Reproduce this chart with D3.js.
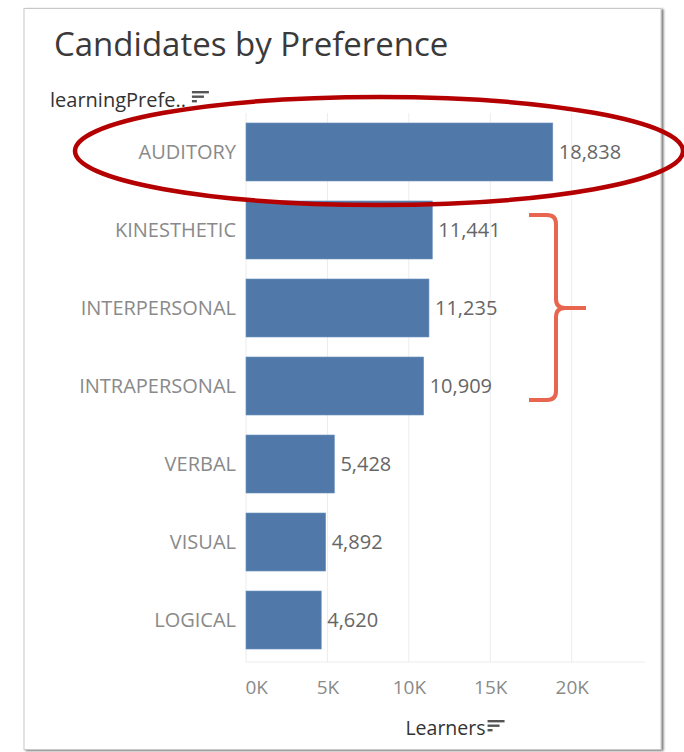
<!DOCTYPE html>
<html><head><meta charset="utf-8">
<script src="https://cdn.jsdelivr.net/npm/d3@7"></script>
<style>
html,body{margin:0;padding:0;background:#fff;}
svg{display:block;}
text{font-family:"Open Sans","Noto Sans",sans-serif;}
</style></head>
<body><svg id="chart" width="684" height="752"></svg>
<script>
const categories = ["AUDITORY","KINESTHETIC","INTERPERSONAL","INTRAPERSONAL","VERBAL","VISUAL","LOGICAL"];
const learners = [18838, 11441, 11235, 10909, 5428, 4892, 4620];
const tickValues = [0, 5000, 10000, 15000, 20000];
const tickLabels = ["0K","5K","10K","15K","20K"];
const title = "Candidates by Preference";
const rowHeader = "learningPrefe..";
const axisTitle = "Learners";

const svg = d3.select("#chart");
const defs = svg.append("defs");
const f = defs.append("filter").attr("id","sh").attr("x","-5%").attr("y","-5%").attr("width","110%").attr("height","110%");
f.append("feGaussianBlur").attr("in","SourceAlpha").attr("stdDeviation",1.2);
f.append("feOffset").attr("dx",1.5).attr("dy",0.5).attr("result","b");
f.append("feComponentTransfer").append("feFuncA").attr("type","linear").attr("slope",0.55);
const m = f.append("feMerge"); m.append("feMergeNode"); m.append("feMergeNode").attr("in","SourceGraphic");

// card
svg.append("rect").attr("x",24).attr("y",8.5).attr("width",637).attr("height",741)
  .attr("fill","#fff").attr("stroke","#c8c8c8").attr("stroke-width",1).attr("filter","url(#sh)");

const x = d3.scaleLinear().domain([0, 24500]).range([246, 645]);
const y = d3.scaleBand().domain(categories).range([113, 659]).paddingInner(0.2564).paddingOuter(0.128);

// gridlines
svg.append("g").selectAll("line").data(tickValues).join("line")
  .attr("x1", d => x(d)).attr("x2", d => x(d)).attr("y1", 113).attr("y2", 662)
  .attr("stroke", "#ececec").attr("stroke-width", 1);
svg.append("line").attr("x1", 246).attr("x2", 645).attr("y1", 662).attr("y2", 662)
  .attr("stroke", "#ececec");

// title
svg.append("text").attr("x", 54).attr("y", 56).attr("font-size", 33).attr("fill", "#3a3a3a")
  .attr("font-weight", 400).text(title);

function sortIcon(g, x0, y0){
  g.append("rect").attr("x",x0).attr("y",y0).attr("width",17).attr("height",2.4).attr("fill","#555");
  g.append("rect").attr("x",x0).attr("y",y0+4.5).attr("width",12).attr("height",2.4).attr("fill","#555");
  g.append("rect").attr("x",x0).attr("y",y0+9).attr("width",5).attr("height",2.4).attr("fill","#555");
}
const hdr = svg.append("text").attr("x", 50).attr("y", 107).attr("font-size", 20).attr("fill", "#333")
  .attr("font-weight", 500).text(rowHeader);
sortIcon(svg.append("g"), 50 + hdr.node().getComputedTextLength() + 6, 91);

// bars
svg.append("g").selectAll("rect").data(categories).join("rect")
  .attr("x", x(0)).attr("y", d => y(d)).attr("height", y.bandwidth())
  .attr("width", (d,i) => x(learners[i]) - x(0))
  .attr("fill", "#5079a9").attr("stroke","#6f93bf").attr("stroke-width",0.6);

// category labels
svg.append("g").selectAll("text").data(categories).join("text")
  .attr("x", 236).attr("y", d => y(d) + y.bandwidth()/2).attr("dy", "0.35em")
  .attr("text-anchor", "end").attr("font-size", 20).attr("fill", "#8a8a8a").text(d => d);

// value labels
const fmt = d3.format(",");
svg.append("g").selectAll("text").data(categories).join("text")
  .attr("x", (d,i) => x(learners[i]) + 6).attr("y", d => y(d) + y.bandwidth()/2).attr("dy", "0.35em")
  .attr("font-size", 20).attr("fill", "#666").text((d,i) => fmt(learners[i]));

// x axis
const axis = d3.axisBottom(x).tickValues(tickValues).tickFormat((d,i) => tickLabels[i]).tickSize(0).tickPadding(0);
const ag = svg.append("g").attr("transform", "translate(0,680)").call(axis);
ag.select(".domain").remove();
ag.selectAll("text").attr("font-size", 19).attr("fill", "#8a8a8a").attr("font-family", "\"Open Sans\",sans-serif")
  .attr("text-anchor", (d,i) => i === 0 ? "start" : "middle").attr("dx", (d,i) => i === 0 ? -1 : 0);

const at = svg.append("text").attr("x", (x.range()[0] + x.range()[1]) / 2).attr("y", 735)
  .attr("text-anchor", "middle").attr("font-size", 19.5).attr("fill", "#333").attr("font-weight", 500).text(axisTitle);
const bb = at.node().getBBox();
sortIcon(svg.append("g"), bb.x + bb.width + 2, 720);

// annotations
svg.append("ellipse").attr("cx", 379).attr("cy", 151).attr("rx", 304).attr("ry", 54)
  .attr("fill", "none").attr("stroke", "#b40000").attr("stroke-width", 4.5);
svg.append("path")
  .attr("d", "M529,215 L547,215 Q556,215 556,224 L556,299 Q556,308 565,308 L586,308 M565,308 Q556,308 556,317 L556,391 Q556,400 547,400 L529,400")
  .attr("fill", "none").attr("stroke", "#e8664f").attr("stroke-width", 4).attr("stroke-linejoin","round");
</script></body></html>
